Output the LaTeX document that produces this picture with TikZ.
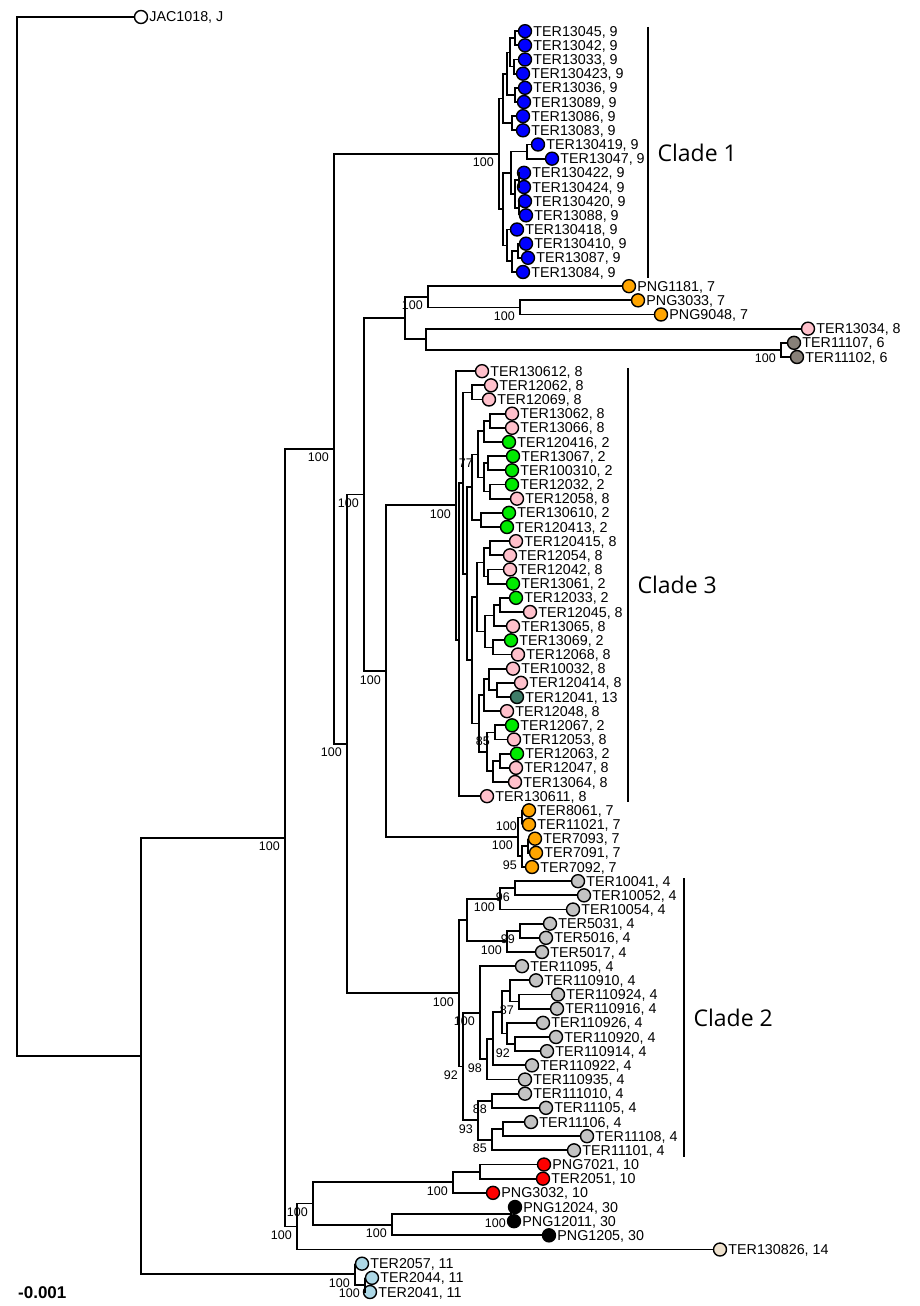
\documentclass[tikz,border=0pt]{standalone}
\usepackage{fontspec}
\setmainfont{Liberation Sans}
\newfontfamily\cladefont{Open Sans}
\usetikzlibrary{calc}
\definecolor{orn}{RGB}{255,165,0}
\definecolor{pnk}{RGB}{255,192,203}
\definecolor{gry}{RGB}{135,128,120}
\definecolor{grn}{RGB}{0,235,0}
\definecolor{tea}{RGB}{62,124,104}
\definecolor{slv}{RGB}{195,195,195}
\definecolor{bge}{RGB}{238,225,205}
\definecolor{lbu}{RGB}{173,216,230}
\begin{document}
\begin{tikzpicture}[x=1pt,y=-1pt,
 br/.style={line width=1.8pt},
 tipc/.style={circle,draw,line width=1.4pt,minimum size=13pt,inner sep=0pt},
 lbl/.style={anchor=base west,inner sep=1pt,yshift=-5pt,font=\fontsize{14.3}{14}\selectfont},
 boot/.style={anchor=north east,inner xsep=5pt,inner ysep=4pt,font=\fontsize{12.5}{12}\selectfont},
 clade/.style={anchor=west,xshift=9pt,inner sep=0pt,font=\cladefont\fontsize{23}{23}\selectfont}]
\useasboundingbox(0,0)rectangle(920,1306);
\foreach \nm/\k/\xx/\cl/\lab in{
jac/0/141/white/{JAC1018, J},
t1/1/525/blue/{TER13045, 9},t2/2/525/blue/{TER13042, 9},t3/3/525/blue/{TER13033, 9},
t4/4/523/blue/{TER130423, 9},t5/5/525/blue/{TER13036, 9},t6/6/524/blue/{TER13089, 9},
t7/7/523/blue/{TER13086, 9},t8/8/523/blue/{TER13083, 9},t9/9/538/blue/{TER130419, 9},
t10/10/552/blue/{TER13047, 9},t11/11/524/blue/{TER130422, 9},t12/12/524/blue/{TER130424, 9},
t13/13/525/blue/{TER130420, 9},t14/14/526/blue/{TER13088, 9},t15/15/517/blue/{TER130418, 9},
t16/16/526/blue/{TER130410, 9},t17/17/528/blue/{TER13087, 9},t18/18/523/blue/{TER13084, 9},
t19/19/629/orn/{PNG1181, 7},t20/20/638/orn/{PNG3033, 7},t21/21/661/orn/{PNG9048, 7},
t22/22/808/pnk/{TER13034, 8},t23/23/794/gry/{TER11107, 6},t24/24/797/gry/{TER11102, 6},
t25/25/482/pnk/{TER130612, 8},t26/26/491/pnk/{TER12062, 8},t27/27/489/pnk/{TER12069, 8},
t28/28/512/pnk/{TER13062, 8},t29/29/512/pnk/{TER13066, 8},t30/30/509/grn/{TER120416, 2},
t31/31/513/grn/{TER13067, 2},t32/32/512/grn/{TER100310, 2},t33/33/512/grn/{TER12032, 2},
t34/34/517/pnk/{TER12058, 8},t35/35/509/grn/{TER130610, 2},t36/36/507/grn/{TER120413, 2},
t37/37/516/pnk/{TER120415, 8},t38/38/510/pnk/{TER12054, 8},t39/39/510/pnk/{TER12042, 8},
t40/40/513/grn/{TER13061, 2},t41/41/516/grn/{TER12033, 2},t42/42/530/pnk/{TER12045, 8},
t43/43/513/pnk/{TER13065, 8},t44/44/511/grn/{TER13069, 2},t45/45/518/pnk/{TER12068, 8},
t46/46/513/pnk/{TER10032, 8},t47/47/521/pnk/{TER120414, 8},t48/48/517/tea/{TER12041, 13},
t49/49/507/pnk/{TER12048, 8},t50/50/512/grn/{TER12067, 2},t51/51/514/pnk/{TER12053, 8},
t52/52/517/grn/{TER12063, 2},t53/53/516/pnk/{TER12047, 8},t54/54/515/pnk/{TER13064, 8},
t55/55/487/pnk/{TER130611, 8},
t56/56/529/orn/{TER8061, 7},t57/57/529/orn/{TER11021, 7},t58/58/535/orn/{TER7093, 7},
t59/59/536/orn/{TER7091, 7},t60/60/532/orn/{TER7092, 7},
t61/61/578/slv/{TER10041, 4},t62/62/584/slv/{TER10052, 4},t63/63/573/slv/{TER10054, 4},
t64/64/550/slv/{TER5031, 4},t65/65/546/slv/{TER5016, 4},t66/66/542/slv/{TER5017, 4},
t67/67/522/slv/{TER11095, 4},t68/68/536/slv/{TER110910, 4},t69/69/558/slv/{TER110924, 4},
t70/70/557/slv/{TER110916, 4},t71/71/543/slv/{TER110926, 4},t72/72/556/slv/{TER110920, 4},
t73/73/547/slv/{TER110914, 4},t74/74/532/slv/{TER110922, 4},t75/75/525/slv/{TER110935, 4},
t76/76/525/slv/{TER111010, 4},t77/77/546/slv/{TER11105, 4},t78/78/531/slv/{TER11106, 4},
t79/79/587/slv/{TER11108, 4},t80/80/574/slv/{TER11101, 4},
t81/81/544/red/{PNG7021, 10},t82/82/543/red/{TER2051, 10},t83/83/493/red/{PNG3032, 10},
t84/84/515/black/{PNG12024, 30},t85/85/514/black/{PNG12011, 30},t86/86/549/black/{PNG1205, 30},
t87/87/720/bge/{TER130826, 14},
t88/88/362/lbu/{TER2057, 11},t89/89/372/lbu/{TER2044, 11},t90/90/370/lbu/{TER2041, 11}}
{\node[tipc,fill=\cl](\nm)at(\xx,{17+14.1667*\k}){};
\node[lbl](\nm-l)at(\nm.east){\lab};}
\foreach \nm/\xx/\u/\v in{
a12/515/t1/t2,a34/514/t3/t4,a14/510/a12/a34,a56/515/t5/t6,a16/507/a14/a56,a78/512/t7/t8,
a18/503/a16/a78,a910/527/t9/t10,a1112/519/t11/t12,a1314/519/t13/t14,a1114/515/a1112/a1314,
a914/511/a910/a1114,a1617/518/t16/t17,a1618/512/a1617/t18,a1518/507/t15/a1618,
a918/503/a914/a1518,c1/499/a18/a918,
p1a/520/t20/t21,p1/428/t19/p1a,p2a/781/t23/t24,p2/426/t22/p2a,p/405/p1/p2,
n1/472/t26/t27,ga1/490/t28/t29,ga/484/ga1/t30,gb1/488/t31/t32,gb2/490/t33/t34,gb/484/gb1/gb2,
gab/478/ga/gb,gx/481/t35/t36,g1/472/gab/gx,gc1/490/t37/t38,gc2/488/t39/t40,gc/484/gc1/gc2,
gd1a/500/t41/t42,gd1/494/gd1a/t43,gd2/493/t44/t45,gd/485/gd1/gd2,gcd/477/gc/gd,
ge1a/497/t47/t48,ge1/489/t46/ge1a,ge/484/ge1/t49,gf1/495/t50/t51,gf2a/500/t52/t53,
gf2/493/gf2a/t54,gf/487/gf1/gf2,gef/479/ge/gf,gcf/472/gcd/gef,r3d/467/g1/gcf,
r3c/463/n1/r3d,r3b/459/r3c/t55,r3/456/t25/r3b,
h2a/522/t56/t57,h2c/528/t58/t59,h2b/522/h2c/t60,h2/518/h2a/h2b,h/386/r3/h2,g/364/p/h,
k1/515/t61/t62,k2/500/k1/t63,k3/520/t64/t65,k4/507/k3/t66,j/467/k2/k4,
l1/519/t69/t70,l2/510/t68/l1,l3/515/t72/t73,l4/507/t71/l3,l5/502/l2/l4,l6/493/l5/t74,
l7/487/l6/t75,l/480/t67/l7,m1/492/t76/t77,m2a/503/t78/t79,m2/492/m2a/t80,m/478/m1/m2,
k5/463/l/m,k/459/j/k5,f/347/g/k,d/334/c1/f,
e2a/480/t81/t82,e2/453/e2a/t83,e3a/511/t84/t85,e3/392/e3a/t86,e1/313/e2/e3,e/297/e1/t87,
b/285/d/e,c2/365/t89/t90,c/355/t88/c2,a/141/b/c,root/17/jac/a}
{\path let \p1=(\u),\p2=(\v) in coordinate(\nm)at(\xx,{0.5*(\y1+\y2)});
\draw[br](\nm)|-(\u)(\nm)|-(\v);}
\foreach \nm/\val in{c1/100,p1a/100,p1/100,p2a/100,gab/77,gf1/85,r3/100,h2a/100,h2b/95,h2/100,
h/100,g/100,k1/96,k2/100,k3/99,k4/100,l1/87,l3/92,l7/98,l/100,m1/88,m2/85,m/93,k5/92,k/100,
f/100,d/100,e2/100,e3a/100,e3/100,e1/100,e/100,b/100,c2/100,c/100}
\node[boot](\nm-b)at(\nm){\val};
\draw[line width=1.1pt](648,27)--node[clade](cl1){Clade 1}(648,278);
\draw[line width=1.1pt](628,368)--node[clade](cl3){Clade 3}(628,802);
\draw[line width=1.1pt](684,878)--node[clade](cl2){Clade 2}(684,1157);
\node[anchor=base west,inner sep=0pt,font=\bfseries\fontsize{17}{17}\selectfont](scl)at(18,1298){-0.001};
\end{tikzpicture}
\end{document}
